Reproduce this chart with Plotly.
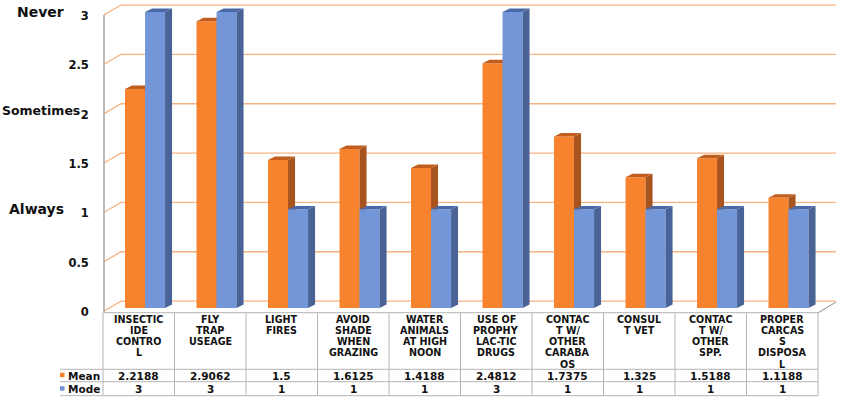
import plotly.graph_objects as go

# ---------------- data ----------------
categories = [
    "INSECTIC<br>IDE<br>CONTRO<br>L",
    "FLY<br>TRAP<br>USEAGE",
    "LIGHT<br>FIRES",
    "AVOID<br>SHADE<br>WHEN<br>GRAZING",
    "WATER<br>ANIMALS<br>AT HIGH<br>NOON",
    "USE OF<br>PROPHY<br>LAC-TIC<br>DRUGS",
    "CONTAC<br>T W/<br>OTHER<br>CARABA<br>OS",
    "CONSUL<br>T VET",
    "CONTAC<br>T W/<br>OTHER<br>SPP.",
    "PROPER<br>CARCAS<br>S<br>DISPOSA<br>L",
]
mean_values = [2.2188, 2.9062, 1.5, 1.6125, 1.4188, 2.4812, 1.7375, 1.325, 1.5188, 1.1188]
mode_values = [3, 3, 1, 1, 1, 3, 1, 1, 1, 1]
series_names = ["Mean", "Mode"]
tick_values = [0, 0.5, 1, 1.5, 2, 2.5, 3]
tick_labels = ["0", "0.5", "1", "1.5", "2", "2.5", "3"]
rating_labels = ["Never", "Sometimes", "Always"]
rating_values = [3, 2, 1]

# ---------------- style ----------------
W, H = 848, 406
FONT = "DejaVu Sans"
ORANGE = dict(front="#F8832F", side="#A8541E", top="#C25E1D")
BLUE = dict(front="#7396D8", side="#4A6396", top="#4B6AA5")
GRID = "#F7B482"
TABLE_LINE = "#B4B4B4"

XR = [-0.6, 9.8]
YR = [-0.16, 3.1]
XDOM = [95.85 / W, 839.45 / W]
YDOM = [(H - 323.8) / H, (H - 2.1) / H]

BAR_W = 0.28
OFFSETS = [-0.192, 0.088]
DDX, DDY = 0.098, 0.035           # bar depth
GDX, G_FRONT, G_BACK = 0.238, -0.03, 0.07   # wall depth
AX_X = -0.486

def py(p):  # pixel row -> paper y
    return 1 - p / H

def px(p):  # pixel column -> paper x
    return p / W

idx = list(range(len(categories)))
fig = go.Figure()

def add_series(values, offset, col, xa, ya):
    fig.add_trace(go.Bar(x=idx, y=values, offset=offset, width=BAR_W,
                         marker=dict(color=col["front"], line=dict(width=0)),
                         xaxis=xa, yaxis=ya, showlegend=False, hoverinfo="y"))
    sx, sy, tx, ty = [], [], [], []
    for i, v in zip(idx, values):
        xl = i + offset
        xr = xl + BAR_W
        sx += [xr, xr + DDX, xr + DDX, xr, xr, None]
        sy += [0, DDY, v + DDY, v, 0, None]
        tx += [xl, xl + DDX, xr + DDX, xr, xl, None]
        ty += [v, v + DDY, v + DDY, v, v, None]
    for X, Y, c in ((sx, sy, col["side"]), (tx, ty, col["top"])):
        fig.add_trace(go.Scatter(x=X, y=Y, fill="toself", fillcolor=c, mode="lines",
                                 line=dict(width=0, color=c), xaxis=xa, yaxis=ya,
                                 showlegend=False, hoverinfo="skip"))

add_series(mean_values, OFFSETS[0], ORANGE, "x", "y")
add_series(mode_values, OFFSETS[1], BLUE, "x2", "y2")

shapes = []
# 3D wall gridlines
for v in tick_values:
    shapes.append(dict(type="path", xref="x", yref="y", layer="below",
                       path=f"M {AX_X},{v + G_FRONT} L {AX_X + GDX},{v + G_BACK} L {9.5 + GDX + 0.014},{v + G_BACK}",
                       line=dict(color=GRID, width=1.3)))
# value axis line
shapes.append(dict(type="line", xref="x", yref="y", x0=AX_X, x1=AX_X, y0=-0.05, y1=3 + G_FRONT,
                   line=dict(color="#A6A6A6", width=1.5)))
# floor right edge
shapes.append(dict(type="line", xref="x", yref="y", x0=9.5, x1=9.5 + GDX + 0.014, y0=-0.048, y1=G_BACK - 0.01,
                   line=dict(color="#8C8C8C", width=1)))

# data table
T_TOP, T_HDR, T_MID, T_BOT = 312.7, 369.3, 381.7, 395.7
for b in range(len(categories) + 1):
    shapes.append(dict(type="line", xref="x", yref="paper", x0=b - 0.5, x1=b - 0.5,
                       y0=py(T_TOP), y1=py(T_BOT), line=dict(color=TABLE_LINE, width=1)))
shapes.append(dict(type="line", xref="x", yref="paper", x0=-0.5, x1=9.5,
                   y0=py(T_TOP), y1=py(T_TOP), line=dict(color=TABLE_LINE, width=1)))
for r in (T_HDR, T_MID, T_BOT):
    shapes.append(dict(type="line", xref="paper", yref="paper", x0=px(60), x1=px(818),
                       y0=py(r), y1=py(r), line=dict(color=TABLE_LINE, width=1)))
# legend keys
for (r0, r1), col in (((372.7, 377.2), ORANGE), ((386.2, 390.7), BLUE)):
    shapes.append(dict(type="rect", xref="paper", yref="paper", x0=px(60), x1=px(64.5),
                       y0=py(r1), y1=py(r0), fillcolor=col["front"], line=dict(width=0)))

annotations = []
hfont = dict(family=FONT, size=9.6, color="#111111", weight="bold")
tfont = dict(family=FONT, size=10.5, color="#111111", weight="bold")
for i, cat in enumerate(categories):
    for k, line in enumerate(cat.split("<br>")):
        annotations.append(dict(x=i, xref="x", y=py(319.3 + 11.2 * k), yref="paper",
                                text=line, showarrow=False, font=hfont, borderpad=0,
                                xanchor="center", yanchor="middle"))
    annotations.append(dict(x=i, xref="x", y=py(375.5), yref="paper", text=str(mean_values[i]),
                            showarrow=False, font=tfont, borderpad=0, xanchor="center", yanchor="middle"))
    annotations.append(dict(x=i, xref="x", y=py(389), yref="paper", text=str(mode_values[i]),
                            showarrow=False, font=tfont, borderpad=0, xanchor="center", yanchor="middle"))
for name, r in zip(series_names, (375.5, 389)):
    annotations.append(dict(x=px(67), xref="paper", y=py(r), yref="paper", text=name,
                            showarrow=False, font=tfont, borderpad=0, xanchor="left", yanchor="middle"))
# rating labels
rating_pos = [(66, "right", 14), (0, "left", 12.5), (66, "right", 14)]
for lab, v, (rx, anc, fs) in zip(rating_labels, rating_values, rating_pos):
    annotations.append(dict(x=px(rx), xref="paper", y=v, yref="y", text=lab, showarrow=False,
                            font=dict(family=FONT, size=fs, color="#111111", weight="bold"),
                            xanchor=anc, yanchor="middle"))

axis_common = dict(showgrid=False, zeroline=False, showline=False)
fig.update_layout(
    width=W, height=H, margin=dict(l=0, r=0, t=0, b=0),
    paper_bgcolor="white", plot_bgcolor="rgba(0,0,0,0)",
    barmode="overlay", showlegend=False,
    xaxis=dict(range=XR, domain=XDOM, showticklabels=False, ticks="", **axis_common),
    yaxis=dict(range=YR, domain=YDOM, tickvals=tick_values, ticktext=tick_labels, ticks="",
               ticklabelstandoff=6, ticklabelshift=4,
               tickfont=dict(family=FONT, size=11.5, color="#111111", weight="bold"), **axis_common),
    xaxis2=dict(range=XR, overlaying="x", visible=False, **axis_common),
    yaxis2=dict(range=YR, overlaying="y", visible=False, **axis_common),
    shapes=shapes, annotations=annotations,
)

fig.write_html("out.html")
